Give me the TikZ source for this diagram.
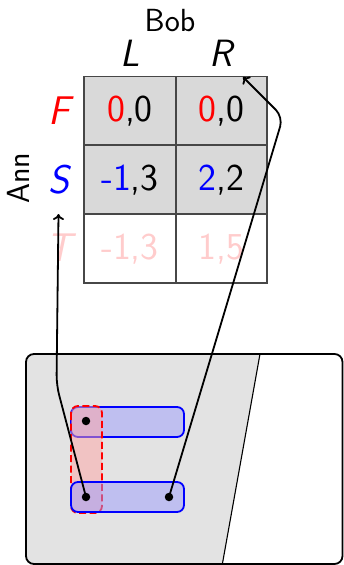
\documentclass[tikz,border=0pt]{standalone}
\usetikzlibrary{arrows.meta}
\definecolor{cellgray}{RGB}{217,217,217}
\definecolor{panelgray}{RGB}{227,227,227}
\definecolor{bluefill}{RGB}{157,157,253}
\definecolor{redfill}{RGB}{255,165,165}
\definecolor{faint}{RGB}{255,204,204}
\begin{document}
\begin{tikzpicture}[x=1pt,y=-1pt,
  cell/.style={draw=black!72, line width=1.6pt, minimum width=91.5pt, minimum height=68.7pt,
    inner sep=0pt, text depth=4pt, font=\fontsize{38}{42}\selectfont\sffamily},
  shaded/.style={cell, fill=cellgray},
  rowlab/.style={font=\fontsize{40}{44}\selectfont\sffamily\itshape, inner sep=0pt},
  collab/.style={font=\fontsize{38}{42}\selectfont\sffamily\itshape, inner sep=0pt},
  player/.style={font=\fontsize{32}{36}\selectfont\sffamily, inner sep=0pt},
  setbox/.style={draw=blue, line width=1.8pt, fill=bluefill, fill opacity=0.5, rounded corners=7pt},
  redbox/.style={draw=red, line width=1.8pt, dash pattern=on 7pt off 3.5pt, fill=redfill, fill opacity=0.5, rounded corners=7pt},
  dot/.style={circle, fill=black, inner sep=0pt, minimum size=8.5pt},
  link/.style={-{To[length=6pt,width=11pt]}, line width=1.8pt, rounded corners=10pt}
]
\useasboundingbox (0,0) rectangle (343,565);

% payoff table
\node[shaded] (FL) at (130,111) {\textcolor{red}{0},0};
\node[shaded] (FR) at (221.5,111) {\textcolor{red}{0},0};
\node[shaded] (SL) at (130,179.5) {\textcolor{blue}{-1},3};
\node[shaded] (SR) at (221.5,179.5) {\textcolor{blue}{2},2};
\node[cell, text=faint] (TL) at (130,248.5) {-1,3};
\node[cell, text=faint] (TR) at (221.5,248.5) {1,5};

% labels
\node[player] (bob) at (170,21) {Bob};
\node[collab] (colL) at (130,53.5) {L};
\node[collab] (colR) at (221,53.5) {R};
\node[rowlab, text=red] (rowF) at (59.5,111) {F};
\node[rowlab, text=blue] (rowS) at (58.5,179.5) {S};
\node[rowlab, text=faint] (rowT) at (59.5,248) {T};
\node[player, rotate=90] (ann) at (18,178.5) {Ann};

% panel
\begin{scope}
  \clip[rounded corners=8pt] (26,354) rectangle (342.5,564);
  \fill[panelgray] (0,340) -- (262.5,340) -- (219.5,580) -- (0,580) -- cycle;
  \draw[line width=1.1pt] (262.5,340) -- (219.5,580);
\end{scope}
\draw[rounded corners=8pt, line width=1.8pt] (26,354) rectangle (342.5,564);

\draw[setbox] (71,407) rectangle (184,437);
\draw[redbox] (71,406) rectangle (102,513);
\draw[setbox] (71,482) rectangle (184,512);

\node[dot] (d1) at (86,421) {};
\node[dot] (d2) at (86,497) {};
\node[dot] (d3) at (169,497) {};

\coordinate (tipS) at (58.5,214);
\coordinate (bendS) at (56.5,385);
\coordinate (tipR) at (243,77);
\coordinate (bendR) at (283,117);

\draw[link] (d2.center) -- (bendS) -- (tipS);
\draw[link] (d3.center) -- (bendR) -- (tipR);
\end{tikzpicture}
\end{document}
